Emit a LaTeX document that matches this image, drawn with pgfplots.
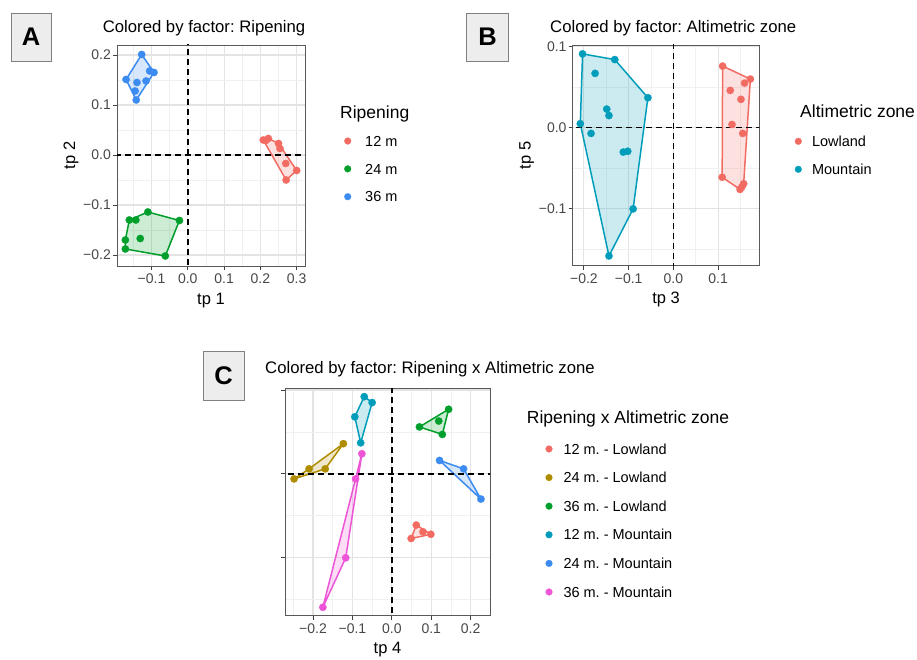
\documentclass[border=0pt]{standalone}
\usepackage{fontspec}
\setmainfont{Liberation Sans}
\usepackage{pgfplots}
\pgfplotsset{compat=1.18}
\frenchspacing
\definecolor{cRed}{HTML}{F26B63}
\definecolor{cGold}{HTML}{B08D00}
\definecolor{cGreen}{HTML}{009E2A}
\definecolor{cTeal}{HTML}{009DBA}
\definecolor{cBlue}{HTML}{3C8BF0}
\definecolor{cPink}{HTML}{EE55D6}
\newcommand{\fs}[1]{\fontsize{#1}{#1}\selectfont}
\pgfplotsset{
  panel/.style={
    scale only axis, anchor=south west,
    axis line style={draw=black!65, line width=0.9pt},
    tick align=outside, major tick length=4pt, minor tick length=0pt,
    tick style={draw=black!75, line width=0.9pt},
    xtick pos=bottom, ytick pos=left,
    xmajorgrids, ymajorgrids, xminorgrids, yminorgrids,
    major grid style={draw=black!11, line width=1.1pt},
    minor grid style={draw=black!6, line width=0.7pt},
    tick label style={font=\fs{14}, text=black!72},
    xticklabel style={inner sep=0pt, anchor=north, yshift=-4pt},
    yticklabel style={inner sep=0pt, anchor=east, xshift=-2pt},
    clip=true,
  },
  xlab/.style={every axis x label/.style={at={(axis description cs:0.5,0)}, anchor=base, yshift=#1, font=\fs{16.5}, inner sep=0pt}},
  ylab/.style={every axis y label/.style={at={(axis description cs:#1,0.5)}, rotate=90, anchor=base, font=\fs{16.5}, inner sep=0pt}},
  hull/.style={forget plot, draw=#1, fill=#1, fill opacity=0.2, draw opacity=1, line width=1.5pt, line join=round},
  pts/.style={only marks, mark=*, mark size=3.7pt, color=#1, mark options={draw=#1, fill=#1, line width=0.2pt},
    legend image code/.code={\path[draw=none,fill=none] (0pt,0pt) rectangle (14pt,8pt);
      \draw[mark repeat=2,mark phase=2,mark size=3.4pt,##1] plot coordinates {(0pt,5.2pt) (7pt,5.2pt) (14pt,5.2pt)};}},
  zero/.style={forget plot, black, line width=1.5pt, dash pattern=on 6pt off 4pt},
  leg/.style n args={4}{legend style={at={(#1,#2)}, anchor=north west, draw=none, fill=none,
    inner sep=0pt, outer sep=0pt, row sep=#3, font=\fs{14.5},
    cells={anchor=base west},
    nodes={inner sep=0pt, text height=10.4pt, text depth=3pt},
    /tikz/every odd column/.append style={column sep=#4}}},
}
\begin{document}
\begin{tikzpicture}[x=1pt,y=1pt]
\useasboundingbox (0pt,0pt) rectangle (917pt,660pt);
% panel labels
\foreach \xa/\ya/\xb/\yb/\L in {11/599/51/646.7/A, 466.7/599/508.3/646.7/B, 203/260/244/308.3/C}{
  \draw[fill=black!7, draw=black!50, line width=0.9pt] (\xa pt,\ya pt) rectangle (\xb pt,\yb pt);
  \node[font=\fs{25.5}\bfseries, inner sep=0pt] at ({(\xa+\xb)/2*1pt},{(\ya+\yb)/2*1pt}) {\L};
}
% titles
\node[anchor=base west, inner sep=0pt, font=\fs{16.7}] at (102.7pt,627.3pt) {Colored by factor: Ripening};
\node[anchor=base west, inner sep=0pt, font=\fs{16.7}] at (550pt,627.3pt) {Colored by factor: Altimetric zone};
\node[anchor=base west, inner sep=0pt, font=\fs{16.7}] at (265pt,286pt) {Colored by factor: Ripening x Altimetric zone};
% legend titles
\node[anchor=base west, inner sep=0pt, font=\fs{17.5}] at (340pt,541.7pt) {Ripening};
\node[anchor=base west, inner sep=0pt, font=\fs{17.5}] at (800pt,542.7pt) {Altimetric zone};
\node[anchor=base west, inner sep=0pt, font=\fs{17.5}] at (526.7pt,236pt) {Ripening x Altimetric zone};

% ---------------- Panel A ----------------
\begin{axis}[panel, at={(117pt,394pt)}, width=188pt, height=221pt,
  xmin=-0.195, xmax=0.323, ymin=-0.222, ymax=0.22,
  xtick={-0.1,0,0.1,0.2,0.3}, xticklabels={−0.1,0.0,0.1,0.2,0.3},
  ytick={-0.2,-0.1,0,0.1,0.2}, yticklabels={−0.2,−0.1,0.0,0.1,0.2},
  minor xtick={-0.15,-0.05,0.05,0.15,0.25}, minor ytick={-0.15,-0.05,0.05,0.15},
  xlabel={tp 1}, ylabel={tp 2}, xlab=-38.3pt, ylab=-0.2234,
  leg={1.190}{0.589}{14.45pt}{10.5pt}]
\addplot[hull=cRed] coordinates {(0.208,0.030) (0.222,0.033) (0.250,0.023) (0.300,-0.031) (0.271,-0.050) (0.208,0.030)};
\addplot[hull=cGreen] coordinates {(-0.110,-0.114) (-0.023,-0.131) (-0.062,-0.202) (-0.172,-0.188) (-0.172,-0.170) (-0.161,-0.130) (-0.110,-0.114)};
\addplot[hull=cBlue] coordinates {(-0.127,0.201) (-0.093,0.165) (-0.142,0.110) (-0.170,0.151) (-0.127,0.201)};
\addplot[zero] coordinates {(-1,0) (1,0)};
\addplot[zero] coordinates {(0,-1) (0,1)};
\addplot[pts=cRed] coordinates {(0.208,0.030) (0.215,0.029) (0.222,0.033) (0.250,0.023) (0.254,0.013) (0.270,-0.017) (0.300,-0.031) (0.271,-0.050)};
\addlegendentry{12 m}
\addplot[pts=cGreen] coordinates {(-0.110,-0.114) (-0.023,-0.131) (-0.062,-0.202) (-0.172,-0.188) (-0.172,-0.170) (-0.161,-0.130) (-0.143,-0.130) (-0.131,-0.167)};
\addlegendentry{24 m}
\addplot[pts=cBlue] coordinates {(-0.127,0.201) (-0.170,0.151) (-0.142,0.110) (-0.093,0.165) (-0.105,0.168) (-0.115,0.148) (-0.140,0.145) (-0.145,0.128)};
\addlegendentry{36 m}
\end{axis}

% ---------------- Panel B ----------------
\begin{axis}[panel, at={(572.7pt,394.3pt)}, width=186.6pt, height=220.7pt,
  xmin=-0.225, xmax=0.192, ymin=-0.170, ymax=0.102,
  xtick={-0.2,-0.1,0,0.1}, xticklabels={−0.2,−0.1,0.0,0.1},
  ytick={-0.1,0,0.1}, yticklabels={−0.1,0.0,0.1},
  minor xtick={-0.15,-0.05,0.05,0.15}, minor ytick={-0.15,-0.05,0.05},
  xlabel={tp 3}, ylabel={tp 5}, xlab=-38.3pt, ylab=-0.225,
  leg={1.1715}{0.587}{14.6pt}{6.7pt}]
\addplot[hull=cRed] coordinates {(0.110,0.076) (0.172,0.060) (0.157,-0.069) (0.149,-0.076) (0.109,-0.061) (0.110,0.076)};
\addplot[hull=cTeal] coordinates {(-0.203,0.091) (-0.131,0.084) (-0.057,0.037) (-0.090,-0.100) (-0.144,-0.158) (-0.208,0.005) (-0.203,0.091)};
\addplot[zero] coordinates {(-1,0) (1,0)};
\addplot[zero] coordinates {(0,-1) (0,1)};
\addplot[pts=cRed] coordinates {(0.110,0.076) (0.172,0.060) (0.159,0.055) (0.127,0.046) (0.151,0.035) (0.131,0.004) (0.155,-0.007) (0.109,-0.061) (0.149,-0.076) (0.157,-0.069) (0.153,-0.073)};
\addlegendentry{Lowland}
\addplot[pts=cTeal] coordinates {(-0.203,0.091) (-0.131,0.084) (-0.057,0.037) (-0.090,-0.100) (-0.144,-0.158) (-0.208,0.005) (-0.175,0.067) (-0.149,0.023) (-0.144,0.015) (-0.184,-0.007) (-0.112,-0.030) (-0.102,-0.029)};
\addlegendentry{Mountain}
\end{axis}

% ---------------- Panel C ----------------
\begin{axis}[panel, at={(285pt,44.3pt)}, width=205pt, height=227.4pt,
  xmin=-0.271, xmax=0.249, ymin=-0.169, ymax=0.102,
  xtick={-0.2,-0.1,0,0.1,0.2}, xticklabels={−0.2,−0.1,0.0,0.1,0.2},
  ytick={-0.1,0,0.1}, yticklabels={},
  minor xtick={-0.25,-0.15,-0.05,0.05,0.15}, minor ytick={-0.15,-0.05,0.05},
  xlabel={tp 4}, xlab=-37.6pt,
  leg={1.2537}{0.756}{15.2pt}{7.5pt}]
\addplot[hull=cRed] coordinates {(0.062,-0.061) (0.099,-0.072) (0.049,-0.077) (0.062,-0.061)};
\addplot[hull=cGold] coordinates {(-0.248,-0.006) (-0.210,0.006) (-0.123,0.036) (-0.169,0.006) (-0.248,-0.006)};
\addplot[hull=cGreen] coordinates {(0.144,0.077) (0.128,0.047) (0.070,0.056) (0.144,0.077)};
\addplot[hull=cTeal] coordinates {(-0.070,0.092) (-0.050,0.085) (-0.079,0.037) (-0.094,0.068) (-0.070,0.092)};
\addplot[hull=cBlue] coordinates {(0.121,0.016) (0.182,0.006) (0.226,-0.030) (0.121,0.016)};
\addplot[hull=cPink] coordinates {(-0.076,0.024) (-0.117,-0.100) (-0.175,-0.159) (-0.092,-0.006) (-0.076,0.024)};
\addplot[zero] coordinates {(-1,0) (1,0)};
\addplot[zero] coordinates {(0,-1) (0,1)};
\addplot[pts=cRed] coordinates {(0.062,-0.061) (0.079,-0.069) (0.099,-0.072) (0.049,-0.077)};
\addlegendentry{12 m. - Lowland}
\addplot[pts=cGold] coordinates {(-0.123,0.036) (-0.169,0.006) (-0.210,0.006) (-0.248,-0.006)};
\addlegendentry{24 m. - Lowland}
\addplot[pts=cGreen] coordinates {(0.144,0.077) (0.070,0.056) (0.128,0.047) (0.119,0.063)};
\addlegendentry{36 m. - Lowland}
\addplot[pts=cTeal] coordinates {(-0.070,0.092) (-0.050,0.085) (-0.094,0.068) (-0.079,0.037)};
\addlegendentry{12 m. - Mountain}
\addplot[pts=cBlue] coordinates {(0.121,0.016) (0.182,0.006) (0.226,-0.030)};
\addlegendentry{24 m. - Mountain}
\addplot[pts=cPink] coordinates {(-0.076,0.024) (-0.092,-0.006) (-0.117,-0.100) (-0.175,-0.159)};
\addlegendentry{36 m. - Mountain}
\end{axis}
\end{tikzpicture}
\end{document}
